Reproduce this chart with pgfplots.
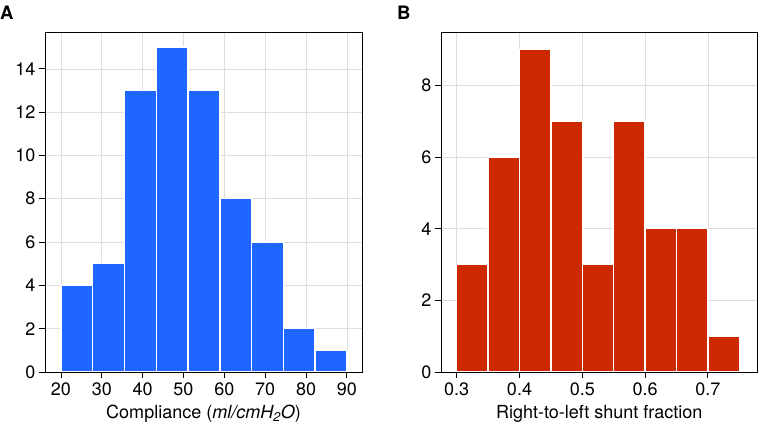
\documentclass[border=0pt]{standalone}
\usepackage{pgfplots}
\pgfplotsset{compat=1.18}
\usepackage{fontspec}
\setmainfont{TeX Gyre Heros}

\definecolor{histblue}{RGB}{30,102,255}
\definecolor{histred}{RGB}{204,41,0}
\definecolor{gridgray}{RGB}{222,222,222}

\pgfplotsset{
  panel/.style={
    scale only axis,
    anchor=south west,
    width=317pt, height=340pt,
    axis line style={black, line width=0.9pt},
    grid=major,
    major grid style={gridgray, line width=0.6pt},
    tick align=outside,
    xtick pos=bottom, ytick pos=left,
    major tick length=6pt,
    tick style={black, line width=0.8pt},
    tick label style={font=\fontsize{18}{20}\selectfont},
    label style={font=\fontsize{18}{20}\selectfont},
    /pgf/number format/assume math mode=true,
    ymin=0,
    xticklabel style={yshift=-1pt},
    xlabel style={yshift=-3pt},
  },
}

\begin{document}
\begin{tikzpicture}[x=1pt,y=1pt]
\useasboundingbox (0,0) rectangle (760,430);

\begin{axis}[panel, at={(45pt,58pt)},
    xmin=16.1, xmax=93.7, ymax=15.7,
    xtick={20,30,...,90}, ytick={0,2,...,14},
    xlabel={Compliance (\textit{ml/cmH\textsubscript{2}O})}]
\addplot[ybar interval, fill=histblue, draw=white, line width=1.4pt] coordinates {
  (20,4) (27.78,5) (35.56,13) (43.33,15) (51.11,13)
  (58.89,8) (66.67,6) (74.44,2) (82.22,1) (90,1)
};
\end{axis}

\begin{axis}[panel, at={(441pt,58pt)}, width=316.5pt,
    xmin=0.275, xmax=0.779, ymax=9.49,
    xtick={0.3,0.4,...,0.71}, ytick={0,2,...,8},
    xticklabel style={/pgf/number format/fixed, /pgf/number format/precision=1, /pgf/number format/fixed zerofill},
    xlabel={Right-to-left shunt fraction}]
\addplot[ybar interval, fill=histred, draw=white, line width=1.4pt] coordinates {
  (0.30,3) (0.35,6) (0.40,9) (0.45,7) (0.50,3)
  (0.55,7) (0.60,4) (0.65,4) (0.70,1) (0.75,1)
};
\end{axis}

\node[anchor=base west, inner sep=0, font=\fontsize{18.5}{20}\selectfont\bfseries] at (0,410) {A};
\node[anchor=base west, inner sep=0, font=\fontsize{18.5}{20}\selectfont\bfseries] at (397,410) {B};
\end{tikzpicture}
\end{document}
